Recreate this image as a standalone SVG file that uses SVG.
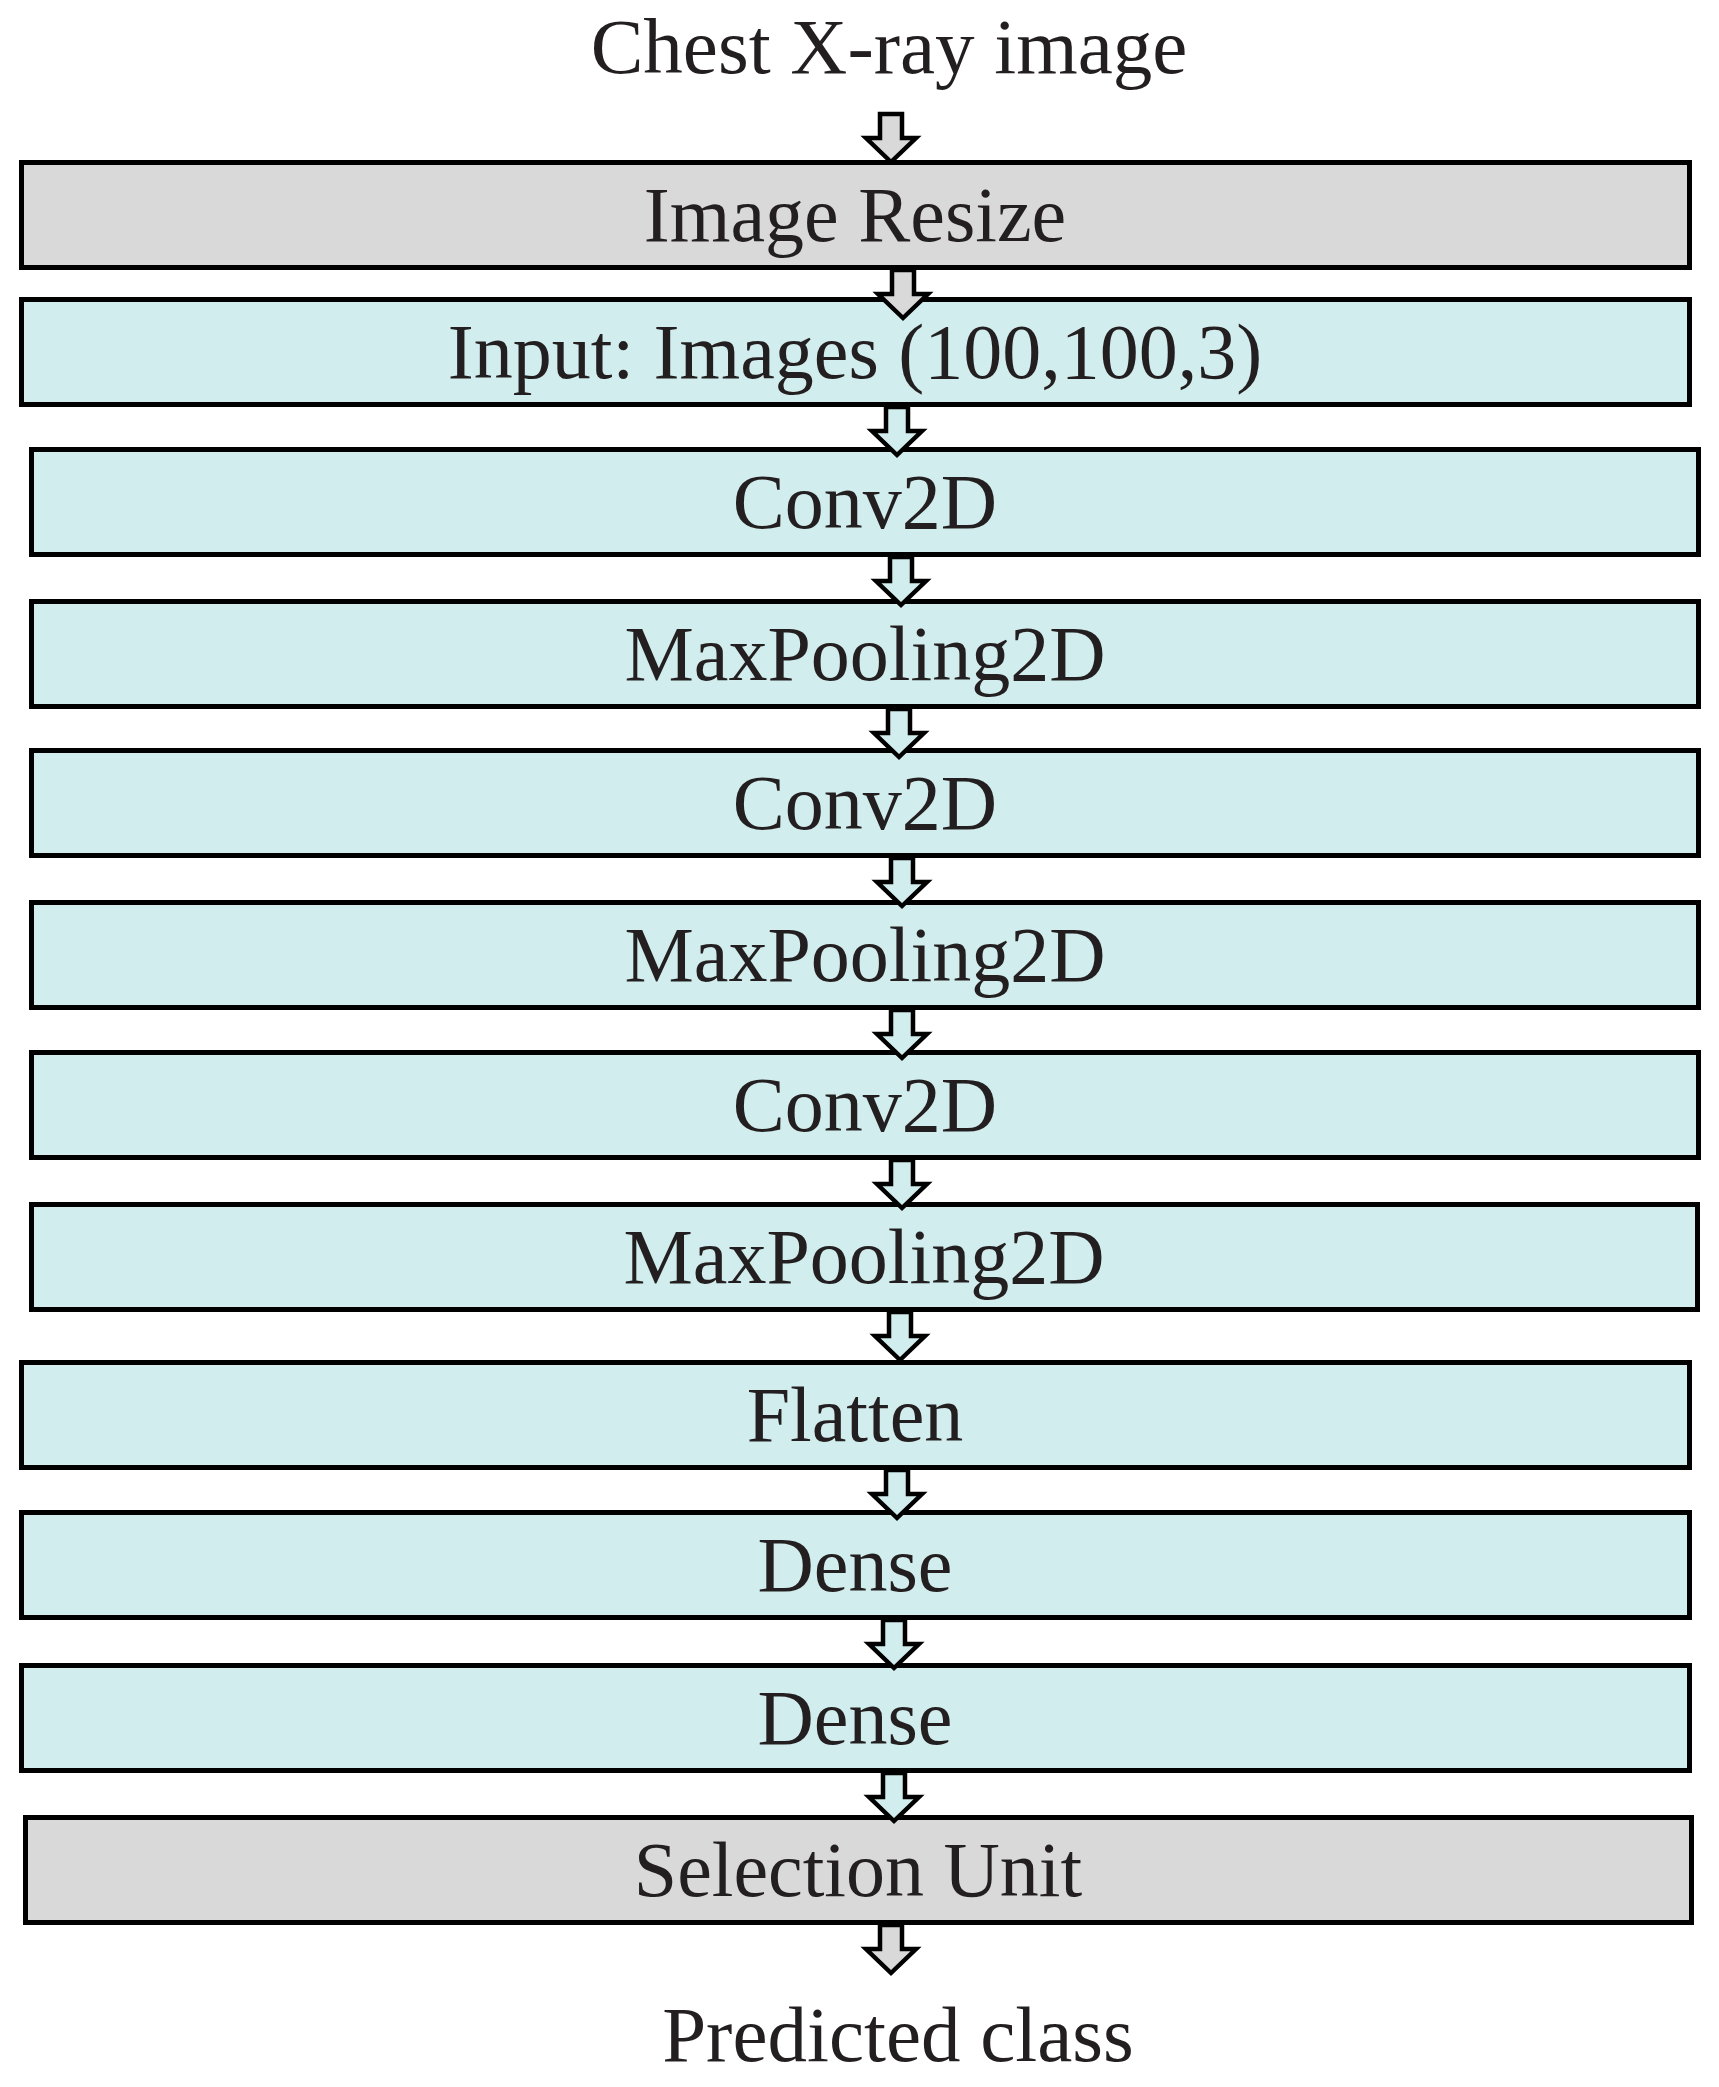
<svg xmlns="http://www.w3.org/2000/svg" width="1719" height="2087" viewBox="0 0 1719 2087">
<style>
.box{stroke:#000;stroke-width:5}
.g{fill:#d9d9d9}
.c{fill:#d1eded}
.t{font-family:"Liberation Serif","DejaVu Serif",serif;font-size:78px;fill:#231f20;text-anchor:middle}
.ar{stroke:#000;stroke-width:4.5;stroke-linejoin:miter}
</style>
<defs>
<path id="arr" d="M-11,0 V24 H-25 L0,48 L25,24 H11 V0 Z"/>
</defs>
<rect width="1719" height="2087" fill="#fff"/>
<text class="t" x="889" y="73" style="font-size:79px">Chest X-ray image</text>
<g id="n1"><rect class="box g" x="21.5" y="162.5" width="1668" height="105"/><text class="t" x="855" y="241">Image Resize</text></g>
<g id="n2"><rect class="box c" x="21.5" y="299.5" width="1668" height="105"/><text class="t" x="855" y="378">Input: Images (100,100,3)</text></g>
<g id="n3"><rect class="box c" x="31.5" y="449.5" width="1667" height="105"/><text class="t" x="865" y="528">Conv2D</text></g>
<g id="n4"><rect class="box c" x="31.5" y="601.5" width="1667" height="105"/><text class="t" x="865" y="680">MaxPooling2D</text></g>
<g id="n5"><rect class="box c" x="31.5" y="750.5" width="1667" height="105"/><text class="t" x="865" y="829">Conv2D</text></g>
<g id="n6"><rect class="box c" x="31.5" y="902.5" width="1667" height="105"/><text class="t" x="865" y="981">MaxPooling2D</text></g>
<g id="n7"><rect class="box c" x="31.5" y="1052.5" width="1667" height="105"/><text class="t" x="865" y="1131">Conv2D</text></g>
<g id="n8"><rect class="box c" x="31.5" y="1204.5" width="1666" height="105"/><text class="t" x="864" y="1283">MaxPooling2D</text></g>
<g id="n9"><rect class="box c" x="21.5" y="1362.5" width="1668" height="105"/><text class="t" x="855" y="1441">Flatten</text></g>
<g id="n10"><rect class="box c" x="21.5" y="1512.5" width="1668" height="105"/><text class="t" x="855" y="1591">Dense</text></g>
<g id="n11"><rect class="box c" x="21.5" y="1665.5" width="1668" height="105"/><text class="t" x="855" y="1744">Dense</text></g>
<g id="n12"><rect class="box g" x="25.5" y="1817.5" width="1666" height="105"/><text class="t" x="858" y="1896">Selection Unit</text></g>
<g id="connectors">
<use href="#arr" class="ar g" x="891" y="114"/>
<use href="#arr" class="ar g" x="903" y="270"/>
<use href="#arr" class="ar c" x="897" y="407"/>
<use href="#arr" class="ar c" x="901" y="557"/>
<use href="#arr" class="ar c" x="899" y="709"/>
<use href="#arr" class="ar c" x="902" y="858"/>
<use href="#arr" class="ar c" x="902" y="1010"/>
<use href="#arr" class="ar c" x="902" y="1160"/>
<use href="#arr" class="ar c" x="900" y="1312"/>
<use href="#arr" class="ar c" x="897" y="1470"/>
<use href="#arr" class="ar c" x="894" y="1620"/>
<use href="#arr" class="ar c" x="894" y="1773"/>
<use href="#arr" class="ar g" x="891" y="1925"/>
</g>
<text class="t" x="898" y="2061" style="font-size:79px">Predicted class</text>
</svg>
